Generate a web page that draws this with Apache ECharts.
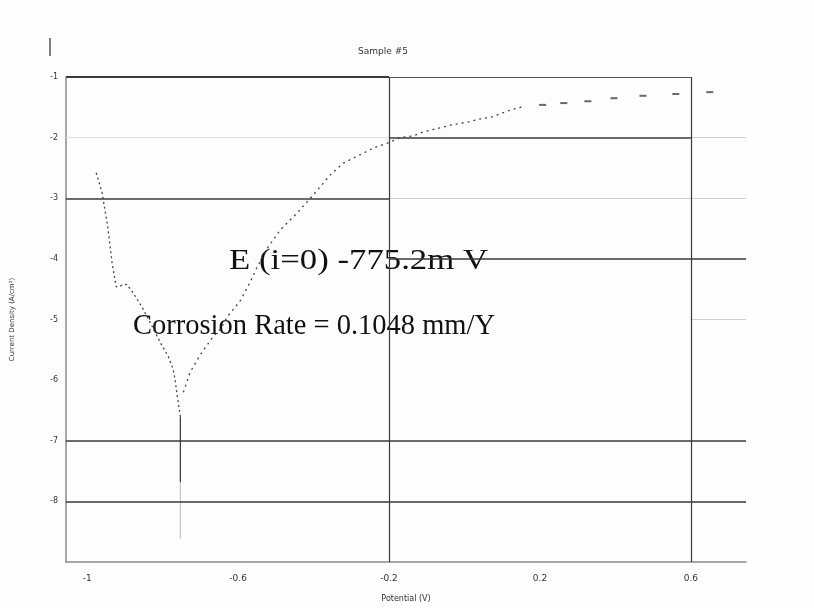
<!DOCTYPE html>
<html>
<head>
<meta charset="utf-8">
<script src="https://cdn.jsdelivr.net/npm/echarts@6/dist/echarts.min.js"></script>
<style>
html,body{margin:0;padding:0;background:#fdfdfd;}
#chart{width:814px;height:608px;}
</style>
</head>
<body>
<div id="chart"></div>
<script>
// ---- data (x: potential V, y: log10 current density) ----
const chartTitle = 'Sample #5';
const xAxisName = 'Potential (V)';
const yAxisName = 'Current Density (A/cm²)';
const xTickValues = [-1, -0.6, -0.2, 0.2, 0.6];
const xTickLabels = ['-1', '-0.6', '-0.2', '0.2', '0.6'];
const yTickValues = [-1, -2, -3, -4, -5, -6, -7, -8];
const annotationE = 'E (i=0) -775.2m V';
const annotationRate = 'Corrosion Rate = 0.1048 mm/Y';

const cathodic = [
  [-0.976,-2.58],[-0.961,-2.89],[-0.952,-3.22],[-0.945,-3.49],[-0.939,-3.80],
  [-0.934,-4.06],[-0.923,-4.46],[-0.895,-4.42],[-0.878,-4.56],[-0.855,-4.79],
  [-0.833,-5.05],[-0.806,-5.38],[-0.785,-5.61],[-0.772,-5.82],[-0.767,-5.99],
  [-0.761,-6.27],[-0.753,-6.60]
];
const dipSolid = [[-0.753,-6.60],[-0.753,-7.02],[-0.753,-7.68]];
const dipFaint = [[-0.753,-7.68],[-0.753,-8.62]];
const anodic = [
  [-0.745,-6.20],[-0.727,-5.87],[-0.700,-5.58],[-0.666,-5.28],[-0.647,-5.16],
  [-0.628,-4.95],[-0.594,-4.69],[-0.567,-4.37],[-0.549,-4.13],[-0.520,-3.80],
  [-0.488,-3.52],[-0.443,-3.24],[-0.400,-2.94],[-0.355,-2.61],[-0.321,-2.42],
  [-0.276,-2.28],[-0.241,-2.17],[-0.204,-2.09],[-0.170,-2.00],[-0.135,-1.97],
  [-0.111,-1.91],[-0.066,-1.84],[-0.034,-1.79],[0.011,-1.74],[0.043,-1.69],
  [0.072,-1.66],[0.101,-1.59],[0.125,-1.54],[0.154,-1.49]
];
const anodicTail = [
  [0.207,-1.46],[0.263,-1.43],[0.327,-1.40],[0.396,-1.35],[0.473,-1.31],
  [0.560,-1.28],[0.650,-1.25]
];

// ---- axis extents ----
const xMin = -1.056, xMax = 0.746;
const yMin = -9, yMax = -1;

const chart = echarts.init(document.getElementById('chart'));

function seg(x1, x2, y, color, width) {
  return [{coord:[x1,y], lineStyle:{color:color, width:width, type:'solid'}}, {coord:[x2,y]}];
}
function vseg(x, y1, y2, color, width) {
  return [{coord:[x,y1], lineStyle:{color:color, width:width, type:'solid'}}, {coord:[x,y2]}];
}
const dark = '#3a3a3a', faint = '#cfcfcf';
const gridLines = [
  seg(xMin, -0.2, -1, dark, 2),
  seg(-0.2, 0.6, -1, '#555', 1.2),
  seg(xMin, -0.2, -2, '#dfe3cf', 1),
  seg(-0.2, 0.6, -2, dark, 1.5),
  seg(0.6, xMax, -2, faint, 1),
  seg(xMin, -0.2, -3, dark, 1.5),
  seg(-0.2, xMax, -3, faint, 1),
  seg(-0.2, xMax, -4, dark, 1.5),
  seg(0.6, xMax, -5, faint, 1),
  seg(xMin, xMax, -7, dark, 1.5),
  seg(xMin, xMax, -8, dark, 1.5),
  vseg(-0.2, yMax, yMin, dark, 1.2),
  vseg(0.6, yMax, yMin, dark, 1.2),
  vseg(xMax, -0.95, -5, faint, 1)
];

chart.setOption({
  backgroundColor: '#fdfdfd',
  animation: false,
  title: {
    text: chartTitle, left: 378, top: 42, textAlign: 'center',
    textStyle: {fontSize: 9, fontWeight: 'normal', color: '#333', fontFamily: 'DejaVu Sans'}
  },
  grid: {left: 66, right: 68, top: 77, bottom: 45, containLabel: false},
  xAxis: {
    type: 'value', min: xMin, max: xMax,
    name: xAxisName, nameLocation: 'middle', nameGap: 33,
    nameTextStyle: {fontSize: 8, color: '#333', fontFamily: 'DejaVu Sans'},
    axisLine: {show: true, onZero: false, lineStyle: {color: '#8a8a8a', width: 1.5}},
    axisTick: {show: false},
    splitLine: {show: false},
    axisLabel: {
      customValues: xTickValues,
      formatter: function (v) { const i = xTickValues.findIndex(t => Math.abs(t - v) < 1e-6); return i >= 0 ? xTickLabels[i] : ''; },
      fontSize: 9, color: '#333', margin: 12, fontFamily: 'DejaVu Sans'
    }
  },
  yAxis: {
    type: 'value', min: yMin, max: yMax, interval: 1,
    name: yAxisName, nameLocation: 'middle', nameGap: 50,
    nameTextStyle: {fontSize: 7, color: '#333', fontFamily: 'DejaVu Sans'},
    axisLine: {show: true, onZero: false, lineStyle: {color: '#8a8a8a', width: 1.5}},
    axisTick: {show: false},
    splitLine: {show: false},
    axisLabel: {
      formatter: function (v) { return yTickValues.indexOf(v) >= 0 ? String(v) : ''; },
      fontSize: 8, color: '#333', margin: 8, fontFamily: 'DejaVu Sans'
    }
  },
  series: [
    {
      type: 'line', data: [], silent: true, symbol: 'none',
      markLine: {silent: true, symbol: 'none', label: {show: false}, animation: false, data: gridLines}
    },
    {
      type: 'line', data: cathodic, symbol: 'none', smooth: false,
      lineStyle: {color: '#444', width: 1.3, type: [2, 3]}
    },
    {
      type: 'line', data: dipSolid, symbol: 'none',
      lineStyle: {color: '#333', width: 1.2, type: 'solid'}
    },
    {
      type: 'line', data: dipFaint, symbol: 'none',
      lineStyle: {color: '#bbb', width: 1, type: 'solid'}
    },
    {
      type: 'line', data: anodic, symbol: 'none',
      lineStyle: {color: '#444', width: 1.3, type: [2, 4]}
    },
    {
      type: 'scatter', data: anodicTail, symbol: 'rect', symbolSize: [7, 2],
      itemStyle: {color: '#444'}
    }
  ],
  graphic: [
    {type: 'line', shape: {x1: 50, y1: 38, x2: 50, y2: 56}, style: {stroke: '#555', lineWidth: 1.5}},
    {type: 'text', x: 229, y: 247, scaleX: 1.22, style: {text: annotationE, font: '28.5px "Liberation Serif"', fill: '#111'}},
    {type: 'text', x: 133, y: 312, scaleX: 1.0, style: {text: annotationRate, font: '28.5px "Liberation Serif"', fill: '#111'}}
  ]
});
</script>
</body>
</html>
